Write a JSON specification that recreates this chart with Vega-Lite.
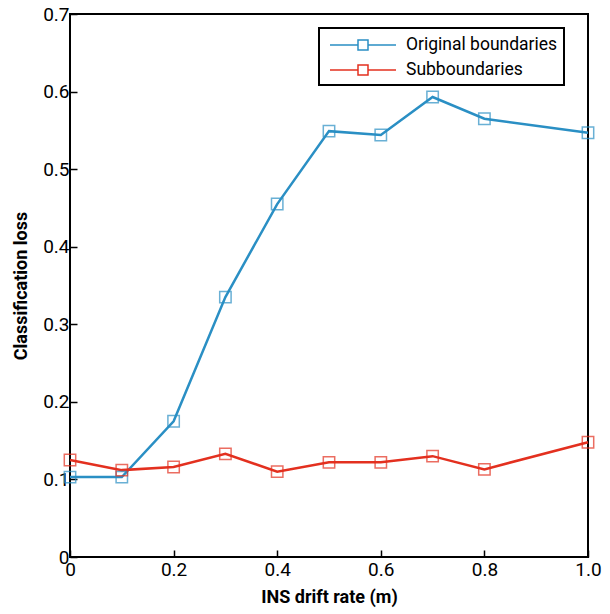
{
  "$schema": "https://vega.github.io/schema/vega-lite/v6.json",
  "width": 518,
  "height": 543,
  "autosize": "none",
  "padding": {"left": 70, "top": 14, "right": 22, "bottom": 57},
  "background": "white",
  "config": {
    "font": "Roboto",
    "view": {"stroke": "black", "strokeWidth": 2},
    "axis": {
      "grid": false,
      "domain": false,
      "tickColor": "black",
      "tickSize": -7,
      "tickWidth": 1.5,
      "labelColor": "black",
      "labelFontSize": 19,
      "labelFont": "Roboto",
      "titleFont": "Roboto",
      "titleFontSize": 18,
      "titleFontWeight": "bold",
      "titleColor": "black"
    }
  },
  "data": {
    "values": [
      {"rate": 0.0, "loss": 0.103, "series": "Original boundaries"},
      {"rate": 0.1, "loss": 0.103, "series": "Original boundaries"},
      {"rate": 0.2, "loss": 0.175, "series": "Original boundaries"},
      {"rate": 0.3, "loss": 0.335, "series": "Original boundaries"},
      {"rate": 0.4, "loss": 0.455, "series": "Original boundaries"},
      {"rate": 0.5, "loss": 0.549, "series": "Original boundaries"},
      {"rate": 0.6, "loss": 0.544, "series": "Original boundaries"},
      {"rate": 0.7, "loss": 0.593, "series": "Original boundaries"},
      {"rate": 0.8, "loss": 0.565, "series": "Original boundaries"},
      {"rate": 1.0, "loss": 0.547, "series": "Original boundaries"},
      {"rate": 0.0, "loss": 0.125, "series": "Subboundaries"},
      {"rate": 0.1, "loss": 0.112, "series": "Subboundaries"},
      {"rate": 0.2, "loss": 0.116, "series": "Subboundaries"},
      {"rate": 0.3, "loss": 0.133, "series": "Subboundaries"},
      {"rate": 0.4, "loss": 0.110, "series": "Subboundaries"},
      {"rate": 0.5, "loss": 0.122, "series": "Subboundaries"},
      {"rate": 0.6, "loss": 0.122, "series": "Subboundaries"},
      {"rate": 0.7, "loss": 0.130, "series": "Subboundaries"},
      {"rate": 0.8, "loss": 0.113, "series": "Subboundaries"},
      {"rate": 1.0, "loss": 0.148, "series": "Subboundaries"}
    ]
  },
  "encoding": {
    "x": {
      "field": "rate", "type": "quantitative",
      "scale": {"domain": [0, 1], "nice": false},
      "axis": {
        "title": "INS drift rate (m)",
        "values": [0, 0.2, 0.4, 0.6, 0.8, 1.0],
        "labelExpr": "datum.value == 0 ? '0' : format(datum.value, '.1f')",
        "labelPadding": 10,
        "titlePadding": 9,
        "labelFlush": false
      }
    },
    "y": {
      "field": "loss", "type": "quantitative",
      "scale": {"domain": [0, 0.7], "nice": false},
      "axis": {
        "title": "Classification loss",
        "values": [0, 0.1, 0.2, 0.3, 0.4, 0.5, 0.6, 0.7],
        "labelExpr": "datum.value == 0 ? '0' : format(datum.value, '.1f')",
        "labelPadding": 8,
        "titlePadding": 12,
        "labelFlush": false
      }
    },
    "color": {
      "field": "series", "type": "nominal",
      "scale": {"domain": ["Original boundaries", "Subboundaries"], "range": ["#2a8fc4", "#e3301f"]},
      "legend": {
        "title": null,
        "orient": "none",
        "legendX": 249,
        "legendY": 14,
        "strokeColor": "black",
        "fillColor": "white",
        "padding": 6,
        "symbolType": "M-0.6,0H2.2M3.2,0H6M2.2,-0.5H3.2V0.5H2.2Z",
        "symbolSize": 400,
        "symbolStrokeWidth": 1.5,
        "symbolFillColor": "transparent",
        "labelFontSize": 17.5,
        "labelFont": "Roboto",
        "labelLimit": 0,
        "labelColor": "black",
        "labelOffset": 59,
        "rowPadding": 5,
        "encode": {"legend": {"update": {"strokeWidth": {"value": 2}}}}
      }
    }
  },
  "layer": [
    {"mark": {"type": "line", "strokeWidth": 2.5}},
    {"mark": {"type": "point", "shape": "square", "size": 130, "filled": false, "strokeWidth": 1.5}}
  ]
}
